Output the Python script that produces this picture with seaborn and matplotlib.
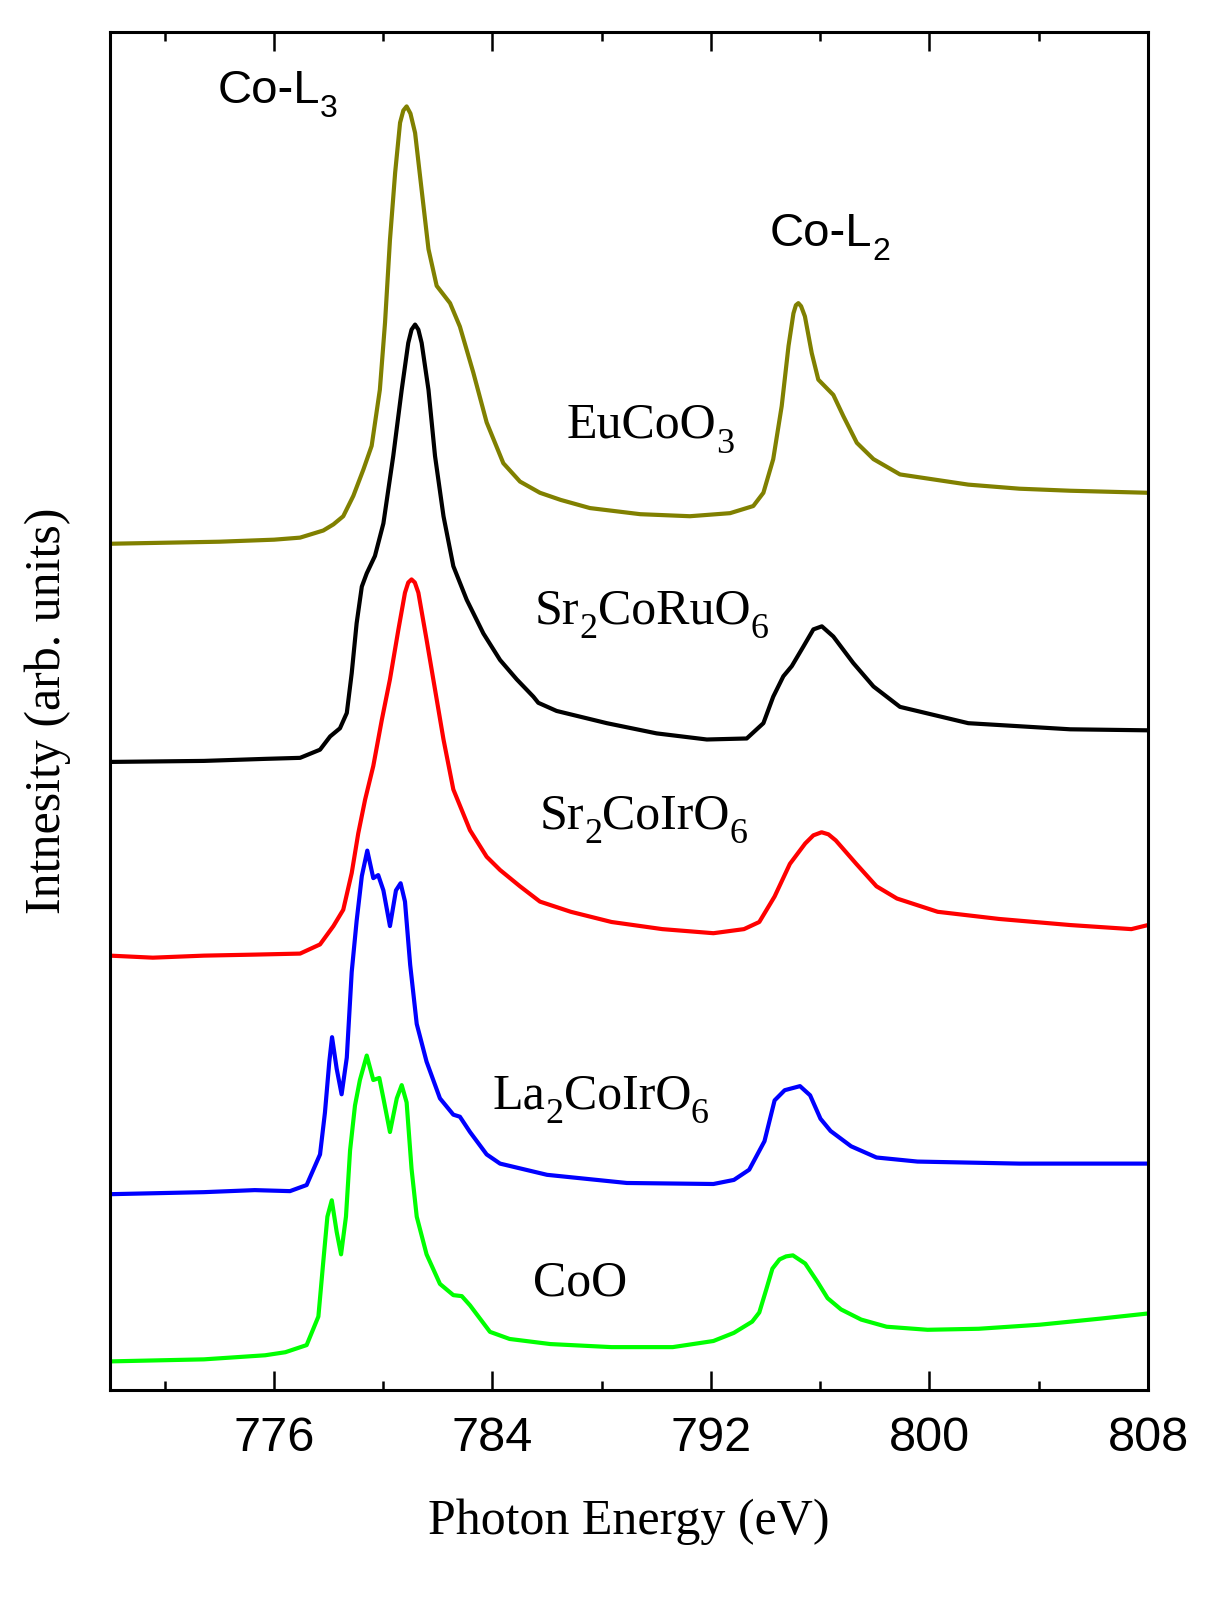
import numpy as np
import pandas as pd
import matplotlib
matplotlib.use("Agg")
import matplotlib.pyplot as plt
import seaborn as sns
from matplotlib.ticker import MultipleLocator

# Co L2,3 XAS spectra (photon energy in eV, offset intensity in arb. units)
eu_energy = [770.00, 774.00, 776.01, 776.96, 777.81, 778.18, 778.54, 778.91, 779.28, 779.58,
             779.88, 780.07, 780.25, 780.44, 780.62, 780.74, 780.86, 781.00, 781.17, 781.41,
             781.66, 781.96, 782.45, 782.81, 783.30, 783.79, 784.40, 785.01, 785.74, 786.50,
             787.57, 789.41, 791.23, 792.70, 793.55, 793.92, 794.28, 794.59, 794.84, 795.02,
             795.11, 795.20, 795.30, 795.44, 795.69, 795.93, 796.48, 796.85, 797.34, 797.95,
             798.92, 801.42, 803.29, 805.15, 808.00]
eu_int = [8.30, 8.32, 8.34, 8.36, 8.43, 8.49, 8.57, 8.77, 9.03, 9.26,
          9.81, 10.47, 11.28, 11.94, 12.43, 12.55, 12.59, 12.52, 12.33, 11.77,
          11.19, 10.83, 10.66, 10.43, 9.98, 9.49, 9.09, 8.91, 8.80, 8.73,
          8.65, 8.59, 8.57, 8.60, 8.67, 8.80, 9.13, 9.65, 10.24, 10.56,
          10.64, 10.66, 10.63, 10.53, 10.17, 9.91, 9.76, 9.55, 9.29, 9.13,
          8.98, 8.88, 8.84, 8.82, 8.80]

ru_energy = [770.00, 773.44, 775.68, 776.96, 777.69, 778.06, 778.42, 778.67, 778.85, 779.03,
             779.22, 779.40, 779.70, 780.01, 780.37, 780.68, 780.92, 781.04, 781.17, 781.29,
             781.41, 781.66, 781.90, 782.21, 782.57, 783.06, 783.67, 784.28, 784.89, 785.50,
             785.68, 786.35, 788.19, 790.01, 791.85, 793.31, 793.92, 794.28, 794.65, 794.96,
             795.38, 795.75, 796.06, 796.48, 797.21, 797.95, 798.92, 801.42, 803.29, 805.15,
             808.00]
ru_int = [6.16, 6.17, 6.19, 6.20, 6.28, 6.41, 6.49, 6.64, 7.03, 7.52,
          7.88, 8.01, 8.18, 8.50, 9.16, 9.81, 10.27, 10.40, 10.45, 10.40,
          10.27, 9.81, 9.16, 8.57, 8.08, 7.75, 7.42, 7.16, 6.97, 6.80,
          6.74, 6.66, 6.54, 6.44, 6.38, 6.39, 6.54, 6.80, 7.00, 7.10,
          7.29, 7.46, 7.49, 7.39, 7.13, 6.90, 6.70, 6.54, 6.51, 6.48,
          6.47]

ir_energy = [770.00, 771.57, 773.44, 775.30, 776.96, 777.69, 778.18, 778.54, 778.85, 779.09,
             779.34, 779.64, 779.95, 780.25, 780.56, 780.80, 780.92, 781.04, 781.16, 781.29,
             781.59, 781.90, 782.21, 782.57, 783.18, 783.79, 784.28, 785.01, 785.74, 786.87,
             788.36, 790.22, 792.09, 793.21, 793.77, 794.33, 794.89, 795.45, 795.75, 796.05,
             796.30, 796.57, 797.32, 798.06, 798.81, 800.30, 802.54, 805.15, 807.39, 808.00]
ir_int = [4.26, 4.24, 4.26, 4.27, 4.28, 4.37, 4.55, 4.71, 5.07, 5.46,
          5.79, 6.12, 6.57, 6.97, 7.46, 7.82, 7.92, 7.95, 7.92, 7.82,
          7.36, 6.87, 6.38, 5.89, 5.49, 5.23, 5.10, 4.94, 4.79, 4.69,
          4.59, 4.52, 4.48, 4.52, 4.59, 4.84, 5.16, 5.36, 5.44, 5.47,
          5.45, 5.39, 5.16, 4.94, 4.82, 4.69, 4.62, 4.56, 4.52, 4.56]

la_energy = [770.00, 773.44, 775.30, 776.59, 777.20, 777.69, 777.87, 778.03, 778.13, 778.30,
             778.48, 778.67, 778.85, 779.03, 779.22, 779.42, 779.64, 779.82, 780.01, 780.25,
             780.47, 780.64, 780.80, 780.99, 781.23, 781.59, 782.08, 782.57, 782.81, 783.18,
             783.79, 784.28, 786.00, 788.92, 792.09, 792.84, 793.40, 793.96, 794.33, 794.70,
             795.26, 795.63, 796.01, 796.38, 797.13, 798.06, 799.56, 803.29, 808.00]
la_int = [1.92, 1.94, 1.96, 1.95, 2.01, 2.31, 2.72, 3.22, 3.46, 3.15,
          2.90, 3.26, 4.10, 4.60, 5.04, 5.29, 5.02, 5.05, 4.90, 4.55,
          4.90, 4.97, 4.79, 4.17, 3.59, 3.22, 2.86, 2.70, 2.68, 2.53,
          2.31, 2.22, 2.11, 2.03, 2.02, 2.06, 2.16, 2.44, 2.84, 2.94,
          2.98, 2.89, 2.66, 2.54, 2.39, 2.28, 2.24, 2.22, 2.22]

coo_energy = [770.00, 773.44, 775.68, 776.42, 777.20, 777.63, 777.81, 777.96, 778.12, 778.30,
              778.46, 778.64, 778.79, 778.97, 779.15, 779.40, 779.64, 779.86, 780.01, 780.25,
              780.50, 780.68, 780.86, 781.04, 781.23, 781.59, 782.08, 782.57, 782.88, 783.18,
              783.91, 784.63, 786.12, 788.36, 790.60, 792.09, 792.84, 793.51, 793.77, 794.03,
              794.25, 794.51, 794.75, 795.00, 795.45, 795.90, 796.27, 796.76, 797.50, 798.43,
              799.93, 801.80, 804.04, 806.27, 808.00]
coo_int = [0.28, 0.30, 0.34, 0.37, 0.44, 0.72, 1.26, 1.70, 1.86, 1.55,
           1.33, 1.70, 2.35, 2.79, 3.04, 3.28, 3.04, 3.06, 2.86, 2.53,
           2.86, 2.99, 2.82, 2.17, 1.70, 1.33, 1.04, 0.93, 0.92, 0.83,
           0.57, 0.50, 0.45, 0.42, 0.42, 0.48, 0.56, 0.67, 0.76, 0.99,
           1.19, 1.28, 1.31, 1.32, 1.24, 1.06, 0.90, 0.79, 0.69, 0.62,
           0.59, 0.60, 0.64, 0.70, 0.75]

samples = ["EuCoO3", "Sr2CoRuO6", "Sr2CoIrO6", "La2CoIrO6", "CoO"]
# label pieces: (text, is_subscript)
sample_pieces = [[("EuCoO", False), ("3", True)],
                 [("Sr", False), ("2", True), ("CoRuO", False), ("6", True)],
                 [("Sr", False), ("2", True), ("CoIrO", False), ("6", True)],
                 [("La", False), ("2", True), ("CoIrO", False), ("6", True)],
                 [("CoO", False)]]
label_x = [786.72, 785.56, 785.72, 784.01, 785.50]
label_y = [9.34, 7.52, 5.51, 2.76, 0.93]
colors = ["#808000", "#000000", "#ff0000", "#0000ff", "#00ff00"]

energies = [eu_energy, ru_energy, ir_energy, la_energy, coo_energy]
intens = [eu_int, ru_int, ir_int, la_int, coo_int]
df = pd.concat([pd.DataFrame({"energy": e, "intensity": i, "sample": s})
                for s, e, i in zip(samples, energies, intens)], ignore_index=True)

sns.set_style("ticks")
plt.rcParams["font.family"] = ["Liberation Sans", "DejaVu Sans"]
plt.rcParams["text.color"] = "black"
plt.rcParams["axes.labelcolor"] = "black"
plt.rcParams["xtick.color"] = "black"
plt.rcParams["axes.edgecolor"] = "black"


def rich_text(ax, x, y, pieces, size, sub_size, drop, family):
    # chain text pieces so subscripts sit lower and smaller, like the original
    prev = ax.text(x, y, pieces[0][0], fontsize=size, family=family, ha="left", va="baseline")
    was_sub = False
    for txt, is_sub in pieces[1:]:
        if is_sub:
            dy = -drop
        else:
            dy = drop if was_sub else 0
        prev = ax.annotate(txt, xy=(1, 0), xycoords=prev, xytext=(0, dy),
                           textcoords="offset points", ha="left", va="bottom",
                           fontsize=sub_size if is_sub else size, family=family)
        was_sub = is_sub


fig = plt.figure(figsize=(12.23, 15.98), dpi=100)
ax = fig.add_axes([0.0899, 0.1302, 0.9387 - 0.0899, 0.98 - 0.1302])

sns.lineplot(data=df, x="energy", y="intensity", hue="sample", palette=colors,
             estimator=None, sort=False, lw=3, legend=False, ax=ax)
for line in ax.lines:
    line.set_solid_joinstyle("round")

for pieces, x, y in zip(sample_pieces, label_x, label_y):
    rich_text(ax, x, y, pieces, 36, 26, 8.5, "Liberation Serif")

rich_text(ax, 773.93, 12.62, [("Co-L", False), ("3", True)], 34, 23, 8.0, "Liberation Sans")
rich_text(ax, 794.14, 11.22, [("Co-L", False), ("2", True)], 34, 23, 8.0, "Liberation Sans")

ax.set_xlim(770, 808)
ax.set_ylim(0, 13.32)
ax.xaxis.set_major_locator(MultipleLocator(8))
ax.xaxis.set_minor_locator(MultipleLocator(4))
ax.set_xticks([776, 784, 792, 800, 808])
ax.set_yticks([])
ax.tick_params(axis="x", which="both", direction="in", top=True, bottom=True, width=1.8)
ax.tick_params(axis="x", which="major", length=13.5, pad=19, labelsize=35)
ax.tick_params(axis="x", which="minor", length=6.5)
for sp in ax.spines.values():
    sp.set_linewidth(2.2)

ax.set_xlabel("Photon Energy (eV)", fontsize=36, family="Liberation Serif", labelpad=27)
ax.set_ylabel("Intnesity (arb. units)", fontsize=36, family="Liberation Serif", labelpad=28)

fig.savefig("out.png", dpi=100)
